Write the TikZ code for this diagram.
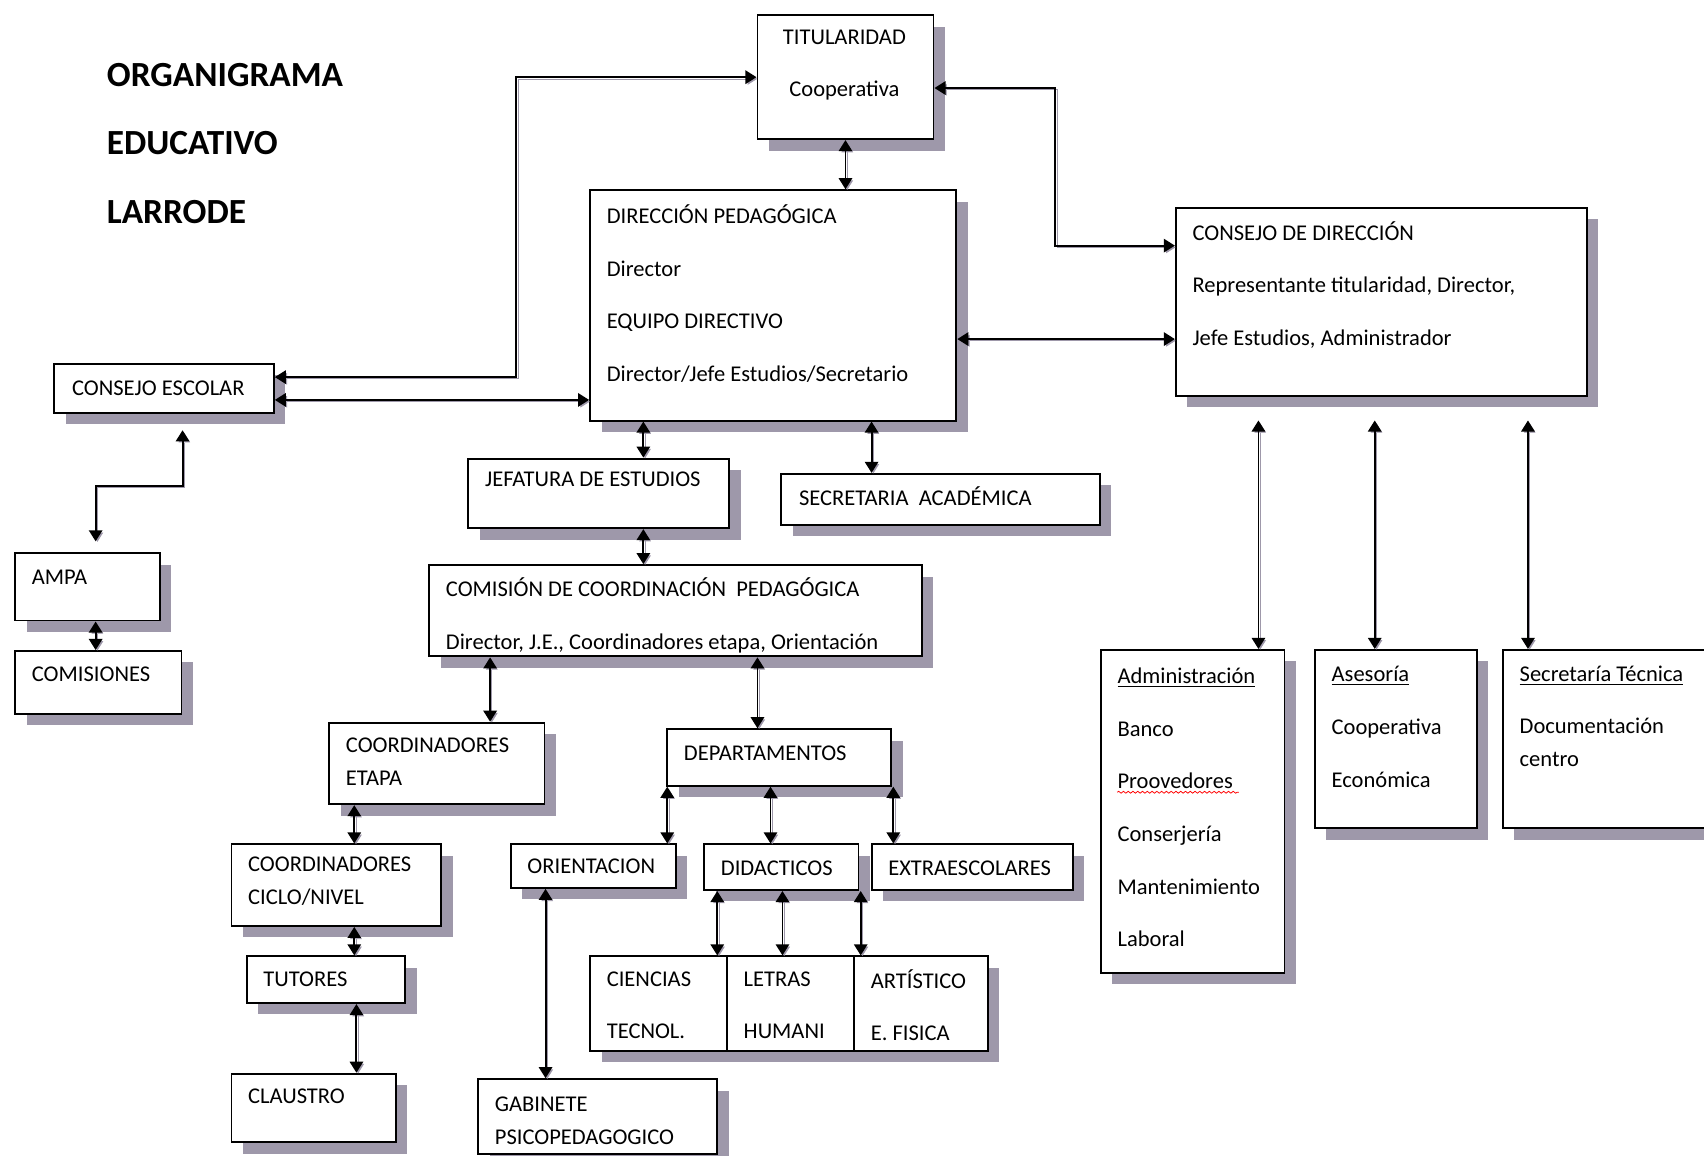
\documentclass[tikz,border=0pt]{standalone}
\usepackage{fontspec}
\setmainfont{Carlito}
\usetikzlibrary{positioning, arrows.meta, fit, shadows, decorations.pathmorphing}
\definecolor{shadowc}{RGB}{158,152,170}

\begin{document}
\begin{tikzpicture}[
    x=0.02cm, y=-0.02cm,
    box/.style={draw, fill=white, rectangle, line width=1pt, inner sep=0pt,
                drop shadow={shadow xshift=0.21cm, shadow yshift=-0.21cm, fill=shadowc, opacity=1}},
    lbl/.style={anchor=west, align=left, inner sep=0pt, font=\fontsize{11.8}{27.6}\selectfont},
    lbln/.style={lbl, font=\fontsize{11.8}{17.1}\selectfont},
    title/.style={anchor=west, align=left, inner sep=0pt, font=\fontsize{18.5}{35.8}\selectfont\bfseries},
    link/.style={line width=1pt, {Triangle[length=5.8pt,width=7pt]}-{Triangle[length=5.8pt,width=7pt]},
                 preaction={draw=shadowc, transform canvas={shift={(0.9pt,-0.9pt)}}}},
]
\useasboundingbox (0,0) rectangle (1568,1063);
\clip (0,0) rectangle (1568,1063);

% === Title ===
\node[title] (ttl) at (98,132) {ORGANIGRAMA\\EDUCATIVO\\LARRODE};

% === Top level ===
\node[box, fit={(697,14) (859,128)}] (tit) {};
\node[box, fit={(543,175) (880,387)}] (dir) {};
\node[box, fit={(1082,191) (1460,364)}] (cdir) {};
\node[box, fit={(50,335) (252,380)}] (cesc) {};
\node[box, fit={(14,509) (147,571)}] (ampa) {};
\node[box, fit={(14,599) (167,657)}] (comi) {};

\node[lbl, anchor=center, align=center] (titt) at (777,60) {TITULARIDAD\\Cooperativa};
\node[lbl] (dirt) at (558,270) {DIRECCIÓN PEDAGÓGICA\\Director\\EQUIPO DIRECTIVO\\Director/Jefe Estudios/Secretario};
\node[lbl] (cdirt) at (1097,262) {CONSEJO DE DIRECCIÓN\\Representante titularidad, Director,\\Jefe Estudios, Administrador};
\node[lbl] (cesct) at (66,357) {CONSEJO ESCOLAR};
\node[lbl] (ampat) at (29,531) {AMPA};
\node[lbl] (comit) at (29,620) {COMISIONES};

% === Pedagogical branch ===
\node[box, fit={(431,422) (671,486)}] (jef) {};
\node[box, fit={(719,436) (1012,483)}] (sec) {};
\node[box, fit={(395,520) (848,604)}] (ccp) {};
\node[box, fit={(303,665) (501,740)}] (cet) {};
\node[box, fit={(614,671) (820,723)}] (dep) {};
\node[box, fit={(470,777) (622,817)}] (ori) {};
\node[box, fit={(648,777) (790,819)}] (did) {};
\node[box, fit={(802,777) (987,819)}] (ext) {};
\node[box, fit={(543,880) (669,967)}] (cie) {};
\node[box, fit={(669,880) (786,967)}] (let) {};
\node[box, fit={(786,880) (909,967)}] (art) {};
\node[box, fit={(440,993) (660,1062)}] (gab) {};
\node[box, fit={(213,777) (406,852)}] (cci) {};
\node[box, fit={(227,880) (373,923)}] (tut) {};
\node[box, fit={(213,988) (364,1051)}] (cla) {};

\node[lbl] (jeft) at (446,441) {JEFATURA DE ESTUDIOS};
\node[lbl] (sect) at (735,457) {SECRETARIA~ ACADÉMICA};
\node[lbl] (ccpt) at (410,566) {COMISIÓN DE COORDINACIÓN~ PEDAGÓGICA\\Director, J.E., Coordinadores etapa, Orientación};
\node[lbln] (cett) at (318,701) {COORDINADORES\\ETAPA};
\node[lbl] (dept) at (629,693) {DEPARTAMENTOS};
\node[lbl] (orit) at (485,797) {ORIENTACION};
\node[lbl] (didt) at (663,799) {DIDACTICOS};
\node[lbl] (extt) at (817,799) {EXTRAESCOLARES};
\node[lbl] (ciet) at (558,925) {CIENCIAS\\TECNOL.};
\node[lbl] (lett) at (684,925) {LETRAS\\HUMANI};
\node[lbl] (artt) at (801,925) {ARTÍSTICO\\E. FISICA};
\node[lbln] (gabt) at (455,1031) {GABINETE\\PSICOPEDAGOGICO};
\node[lbln] (ccit) at (228,811) {COORDINADORES\\CICLO/NIVEL};
\node[lbl] (tutt) at (242,901) {TUTORES};
\node[lbl] (clat) at (228,1009) {CLAUSTRO};

% === Management branch ===
\node[box, fit={(1013,598) (1182,895)}] (adm) {};
\node[box, fit={(1210,598) (1359,762)}] (ase) {};
\node[box, fit={(1383,598) (1590,762)}] (stec) {};

\node[lbl] (admt) at (1028,743) {\underline{Administración}\\Banco\\Proovedores\\Conserjería\\Mantenimiento\\Laboral};
\node[lbl] (aset) at (1225,669) {\underline{Asesoría}\\Cooperativa\\Económica};
\node[lbln] (stect) at (1398,659) {\underline{Secretaría Técnica}\\[10.5pt]Documentación\\centro};
\draw[red, decorate, decoration={snake, amplitude=0.5pt, segment length=2.5pt}] (1028,729) -- (1140,729);

% === Connectors ===
\draw[link] (tit.south) -- (tit.south |- dir.north);
\draw[link] (cesc.east |- 0,347) -| (475,71) -- (tit.west |- 0,71);
\draw[link] (tit.east |- 0,81) -| (971,226) -- (cdir.west |- 0,226);
\draw[link] (dir.east |- 0,312) -- (cdir.west |- 0,312);
\draw[link] (cesc.east |- 0,368) -- (dir.west |- 0,368);
\draw[link, shorten <=0.3cm, shorten >=0.2cm] (168,0 |- cesc.south) |- (88,447) -- (88,0 |- ampa.north);
\draw[link] (88,0 |- ampa.south) -- (88,0 |- comi.north);

\draw[link] (592,0 |- dir.south) -- (592,0 |- jef.north);
\draw[link] (802,0 |- dir.south) -- (802,0 |- sec.north);
\draw[link] (592,0 |- jef.south) -- (592,0 |- ccp.north);
\draw[link] (451,0 |- ccp.south) -- (451,0 |- cet.north);
\draw[link] (697,0 |- ccp.south) -- (697,0 |- dep.north);
\foreach \x/\b in {614/ori, 709/did, 822/ext}
    \draw[link] (\x,0 |- dep.south) -- (\x,0 |- \b.north);
\foreach \x/\b in {660/cie, 720/let, 792/art}
    \draw[link] (\x,0 |- did.south) -- (\x,0 |- \b.north);
\draw[link] (502,0 |- ori.south) -- (502,0 |- gab.north);
\draw[link] (326,0 |- cet.south) -- (326,0 |- cci.north);
\draw[link] (326,0 |- cci.south) -- (326,0 |- tut.north);
\draw[link] (328,0 |- tut.south) -- (328,0 |- cla.north);
\foreach \x/\b in {1158/adm, 1265/ase, 1406/stec}
    \draw[link, shorten <=0.44cm] (\x,0 |- cdir.south) -- (\x,0 |- \b.north);

\end{tikzpicture}
\end{document}
